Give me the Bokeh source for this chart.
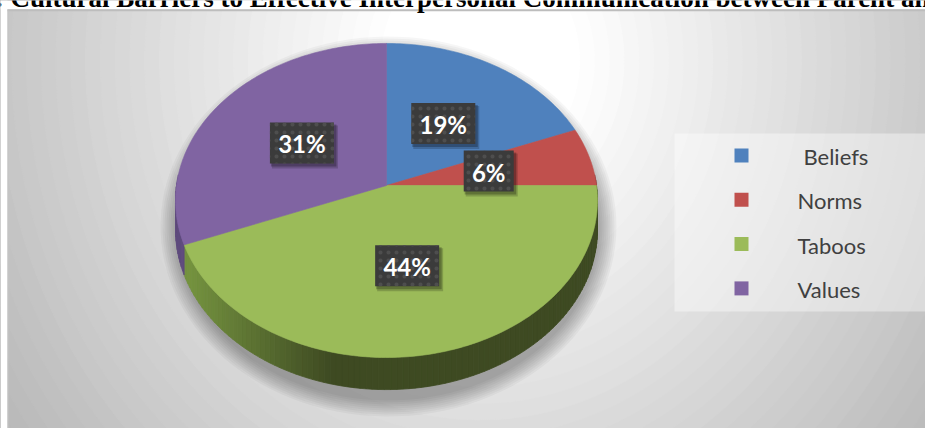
import numpy as np
from bokeh.plotting import figure
from bokeh.models import Range1d
from bokeh.core.properties import value
from bokeh.embed import file_html
from bokeh.resources import INLINE

# ---------------- data ----------------
categories = ["Beliefs", "Norms", "Taboos", "Values"]
shares = [19, 6, 44, 31]
pct_labels = ["19%", "6%", "44%", "31%"]
legend_names = ["Beliefs", "Norms", "Taboos", "Values"]
title_text = ": Cultural Barriers to Effective Interpersonal Communication between Parent and Child"

# ---------------- styles ----------------
top_colors = ["#4f81bd", "#c0504d", "#9bbb59", "#8064a2"]
side_light = [(60, 98, 145), (150, 60, 58), (116, 146, 63), (95, 75, 126)]
side_dark = [(40, 66, 100), (110, 42, 40), (62, 74, 34), (64, 48, 84)]

W, H = 925, 428
p = figure(width=W, height=H, x_range=Range1d(0, W), y_range=Range1d(H, 0),
           output_backend="svg", toolbar_location=None, tools="",
           x_axis_location=None, y_axis_location=None, min_border=0)
p.grid.visible = False
p.outline_line_color = None
p.background_fill_color = "white"
p.border_fill_color = "white"

def hexc(c):
    return "#%02x%02x%02x" % tuple(int(round(max(0, min(255, v)))) for v in c)

# ---------------- background radial gradient ----------------
gcx, gcy, GRx, GRy = 480, 60, 500, 560
ts = np.linspace(0, 2 * np.pi, 120)
bxs, bys, bcs = [], [], []
for d in np.linspace(1.5, 0.05, 50):
    g = 255 - max(0.0, d - 0.2) / 0.83 * 61
    g = max(g, 186)
    bxs.append(list(gcx + GRx * d * np.cos(ts)))
    bys.append(list(gcy + GRy * d * np.sin(ts)))
    bcs.append(hexc((g, g, g)))
p.patches(bxs, bys, fill_color=bcs, line_color=bcs, line_width=1)

# white page outside the chart box
p.quad(left=[0, 0], right=[W, 7], top=[0, 0], bottom=[9, H], fill_color="white", line_color=None)
p.segment(x0=[7], y0=[9.8], x1=[W], y1=[9.8], line_color="#bdbdbd", line_width=2)
p.segment(x0=[7.5], y0=[9], x1=[7.5], y1=[H], line_color="#c4c4c4", line_width=1)

# ---------------- pie geometry ----------------
CX, CY, RX = 386, 185, 210
A, B = 155.6, 0.0955
DEPTH = 29

def proj(theta_deg, r=1.0):
    t = np.radians(theta_deg)
    u = r * np.sin(t)
    v = r * np.cos(t)
    den = 1 + B * v
    return CX + RX * u / den, CY - A * v / den, den

total = float(sum(shares))
starts, ends = [], []
acc = 0.0
for s in shares:
    starts.append(acc / total * 360)
    acc += s
    ends.append(acc / total * 360)

# soft shadow
sxs, sys_ = [], []
for k in range(9):
    rx = 228 - 2 * k
    ry = 190 - 2 * k
    sxs.append(list(388 + rx * np.cos(ts)))
    sys_.append(list(226 + ry * np.sin(ts)))
p.patches(sxs, sys_, fill_color="black", fill_alpha=0.035, line_color=None)

# side wall strips
wxs, wys, wcs = [], [], []
for i in range(len(shares)):
    a0 = max(starts[i], 86)
    a1 = min(ends[i], 274)
    if a1 <= a0:
        continue
    n = max(2, int((a1 - a0) / 1.5))
    th = np.linspace(a0, a1, n + 1)
    for j in range(n):
        x0, y0, d0 = proj(th[j])
        x1, y1, d1 = proj(th[j + 1])
        xm = 0.5 * (x0 + x1)
        t = np.clip((xm - 190) / (330 - 190), 0, 1)
        col = tuple(side_light[i][c] * (1 - t) + side_dark[i][c] * t for c in range(3))
        wxs.append([x0, x1, x1, x0])
        wys.append([y0, y1, y1 + DEPTH / d1, y0 + DEPTH / d0])
        wcs.append(hexc(col))
p.patches(wxs, wys, fill_color=wcs, line_color=wcs, line_width=0.8)

# top faces
txs, tys = [], []
for i in range(len(shares)):
    n = max(4, int((ends[i] - starts[i]) / 1.0))
    th = np.linspace(starts[i], ends[i], n + 1)
    x, y, _ = proj(th)
    txs.append([CX] + list(x))
    tys.append([CY] + list(y))
p.patches(txs, tys, fill_color=top_colors, line_color=top_colors, line_width=0.6)

# ---------------- data labels ----------------
lx, ly, bw = [], [], []
for i in range(len(shares)):
    mid = 0.5 * (starts[i] + ends[i])
    x, y, _ = proj(mid, 0.5)
    lx.append(float(x))
    ly.append(float(y))
    bw.append(14 * len(pct_labels[i]) + 22)
lx = np.array(lx); ly = np.array(ly); bw = np.array(bw)
bh = 41
p.quad(left=lx - bw / 2 + 2, right=lx + bw / 2 + 4, top=ly - bh / 2 + 3, bottom=ly + bh / 2 + 5,
       fill_color="black", fill_alpha=0.18, line_color=None)
p.quad(left=lx - bw / 2 + 1, right=lx + bw / 2 + 2.5, top=ly - bh / 2 + 2, bottom=ly + bh / 2 + 3,
       fill_color="black", fill_alpha=0.25, line_color=None)
p.quad(left=lx - bw / 2, right=lx + bw / 2, top=ly - bh / 2, bottom=ly + bh / 2,
       fill_color="#3b3b3b", line_color=None,
       hatch_pattern="dot", hatch_color="#4e4e4e", hatch_scale=8, hatch_weight=1.5)
p.text(x=lx, y=ly + 1, text=pct_labels, text_font=value("Lato"), text_font_style="bold",
       text_font_size="24px", text_color="white", text_align="center", text_baseline="middle")

# ---------------- legend ----------------
p.quad(left=[674], right=[W], top=[133], bottom=[311], fill_color="white", fill_alpha=0.4, line_color=None)
leg_y = np.array([155 + 44.3 * i for i in range(len(categories))])
leg_x = [803, 797, 797, 797]
p.quad(left=[734] * 4, right=[748] * 4, top=leg_y - 7, bottom=leg_y + 7,
       fill_color=top_colors, line_color=None)
p.text(x=leg_x, y=leg_y + 1, text=legend_names, text_font=value("Lato"),
       text_font_size="22px", text_color="#404040", text_align="left", text_baseline="middle")

# ---------------- title (cut off at the top edge, as in the source image) ----------------
p.text(x=[-5.7], y=[12.3], text=[title_text], text_font=value("Liberation Serif"),
       text_font_style="bold", text_font_size="27px", text_color="black",
       text_align="left", text_baseline="bottom")

open("out.html", "w").write(file_html(p, INLINE))
